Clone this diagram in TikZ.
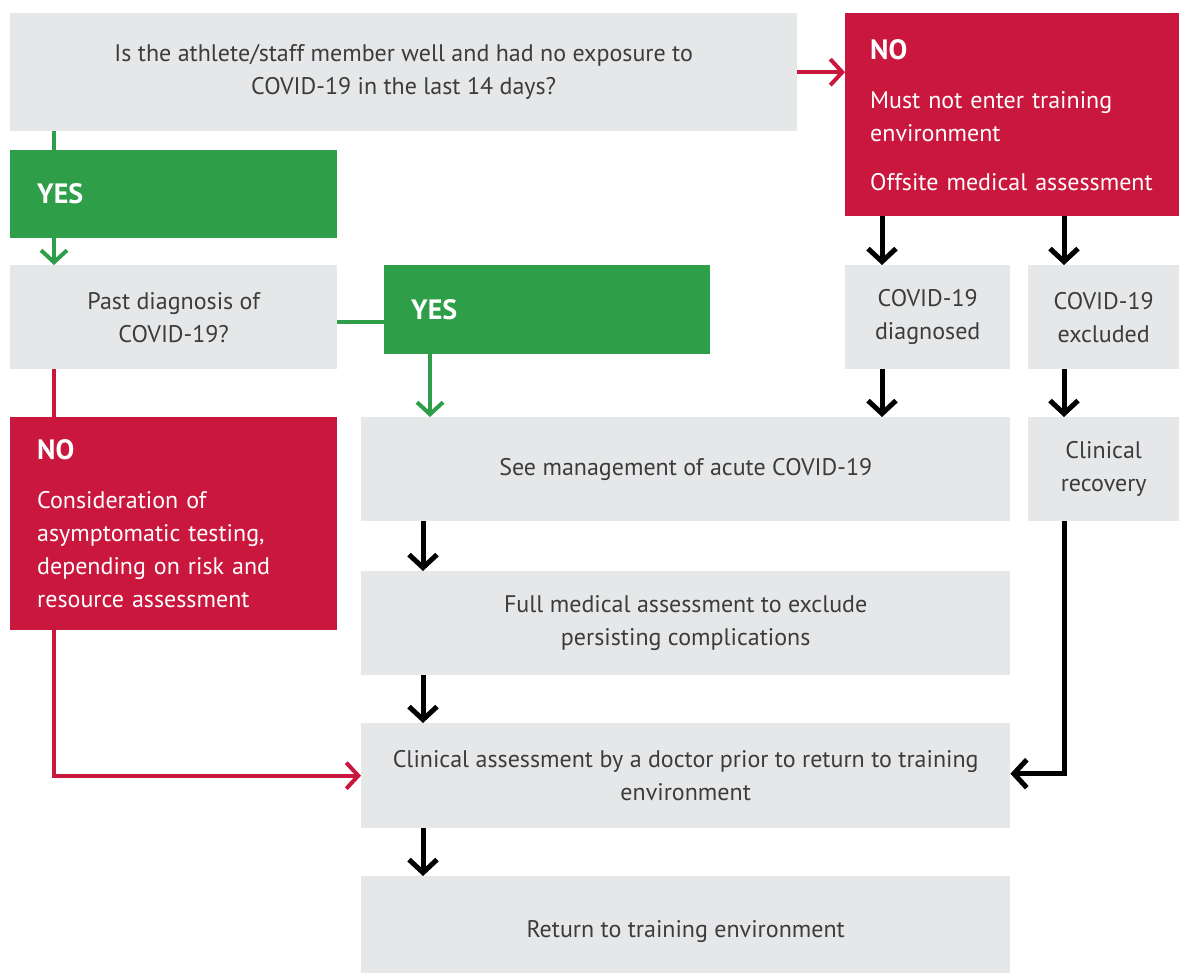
\documentclass[tikz,border=0pt]{standalone}
\usepackage{fontspec}
\setmainfont{PT Sans}
\usetikzlibrary{arrows.meta}
\definecolor{boxgray}{HTML}{E6E7E8}
\definecolor{nored}{HTML}{CA173E}
\definecolor{yesgreen}{HTML}{2E9E48}
\definecolor{txtgray}{HTML}{3C3C3C}

\begin{document}
\begin{tikzpicture}[x=1pt,y=-1pt,
font=\fontsize{24}{33}\selectfont,
graubox/.style={rectangle, anchor=north west, inner sep=0pt, fill=boxgray, text=txtgray, align=center},
neinbox/.style={rectangle, anchor=north west, inner xsep=25pt, inner ysep=0pt, fill=nored, text=white, align=left},
jabox/.style={rectangle, anchor=north west, inner xsep=27pt, inner ysep=0pt, fill=yesgreen, text=white, align=left, font=\fontsize{28}{33}\selectfont\bfseries},
schwarz/.style={line width=5pt, -{Straight Barb[length=13pt,width=28pt]}},
gruen/.style={line width=4pt, yesgreen, -{Straight Barb[length=12pt,width=26pt]}},
rot/.style={line width=4pt, nored, -{Straight Barb[length=12pt,width=26pt]}},
]
\useasboundingbox (0,0) rectangle (1179,973);

\node[graubox, minimum width=787pt, minimum height=118pt] (frage) at (10,13)
  {Is the athlete/staff member well and had no exposure to\\COVID-19 in the last 14 days?};
\node[neinbox, text width=284pt, minimum height=203pt] (nein1) at (845,13)
  {{\fontsize{28}{33}\selectfont\bfseries NO}\\[16pt]Must not enter training\\environment\\[16pt]Offsite medical assessment};
\node[jabox, text width=273pt, minimum height=88pt] (ja1) at (10,150) {YES};
\node[graubox, minimum width=327pt, minimum height=104pt] (vorher) at (10,265)
  {Past diagnosis of\\COVID-19?};
\node[jabox, text width=272pt, minimum height=89pt] (ja2) at (384,265) {YES};
\node[graubox, minimum width=165pt, minimum height=104pt] (diag) at (845,265)
  {COVID-19\\diagnosed};
\node[graubox, minimum width=151pt, minimum height=104pt] (ausg) at (1028,265)
  {COVID-19\\excluded};
\node[neinbox, inner xsep=27pt, text width=273pt, minimum height=213pt] (nein2) at (10,417)
  {{\fontsize{28}{33}\selectfont\bfseries NO}\\[16pt]Consideration of\\asymptomatic testing,\\depending on risk and\\resource assessment};
\node[graubox, minimum width=649pt, minimum height=104pt] (akut) at (361,417)
  {See management of acute COVID-19};
\node[graubox, minimum width=151pt, minimum height=104pt] (erholt) at (1028,417)
  {Clinical\\recovery};
\node[graubox, minimum width=649pt, minimum height=104pt] (voll) at (361,571)
  {Full medical assessment to exclude\\persisting complications};
\node[graubox, minimum width=649pt, minimum height=105pt] (arzt) at (361,723)
  {Clinical assessment by a doctor prior to return to training\\environment};
\node[graubox, minimum width=649pt, minimum height=110pt] (zurueck) at (361,876)
  {Return to training environment};

% gruene Wege
\draw[line width=4pt, yesgreen] ([xshift=44pt]frage.south west) -- ([xshift=44pt]ja1.north west);
\draw[gruen] ([xshift=44pt]ja1.south west) -- ([xshift=44pt]vorher.north west);
\draw[line width=4pt, yesgreen] ([yshift=-5pt]vorher.east) -- ([yshift=-5pt]vorher.east -| ja2.west);
\draw[gruen] ([xshift=46pt]ja2.south west) -- ([xshift=46pt]ja2.south west |- akut.north);

% rote Wege
\draw[rot] (frage.east) -- (frage.east -| nein1.west);
\draw[line width=4pt, nored] ([xshift=44pt]vorher.south west) -- ([xshift=44pt]nein2.north west);
\draw[rot] ([xshift=44pt]nein2.south west) |- (arzt.west);

% schwarze Wege
\draw[schwarz] ([xshift=37pt]nein1.south west) -- ([xshift=37pt]diag.north west);
\draw[schwarz] ([xshift=36pt]ausg.north west |- nein1.south) -- ([xshift=36pt]ausg.north west);
\draw[schwarz] ([xshift=37pt]diag.south west) -- ([xshift=37pt]diag.south west |- akut.north);
\draw[schwarz] ([xshift=36pt]ausg.south west) -- ([xshift=36pt]erholt.north west);
\draw[schwarz] ([xshift=36pt]erholt.south west) |- ([yshift=2pt]arzt.east);
\draw[schwarz] ([xshift=62pt]akut.south west) -- ([xshift=62pt]voll.north west);
\draw[schwarz] ([xshift=62pt]voll.south west) -- ([xshift=62pt]arzt.north west);
\draw[schwarz] ([xshift=62pt]arzt.south west) -- ([xshift=62pt]zurueck.north west);

\end{tikzpicture}
\end{document}
